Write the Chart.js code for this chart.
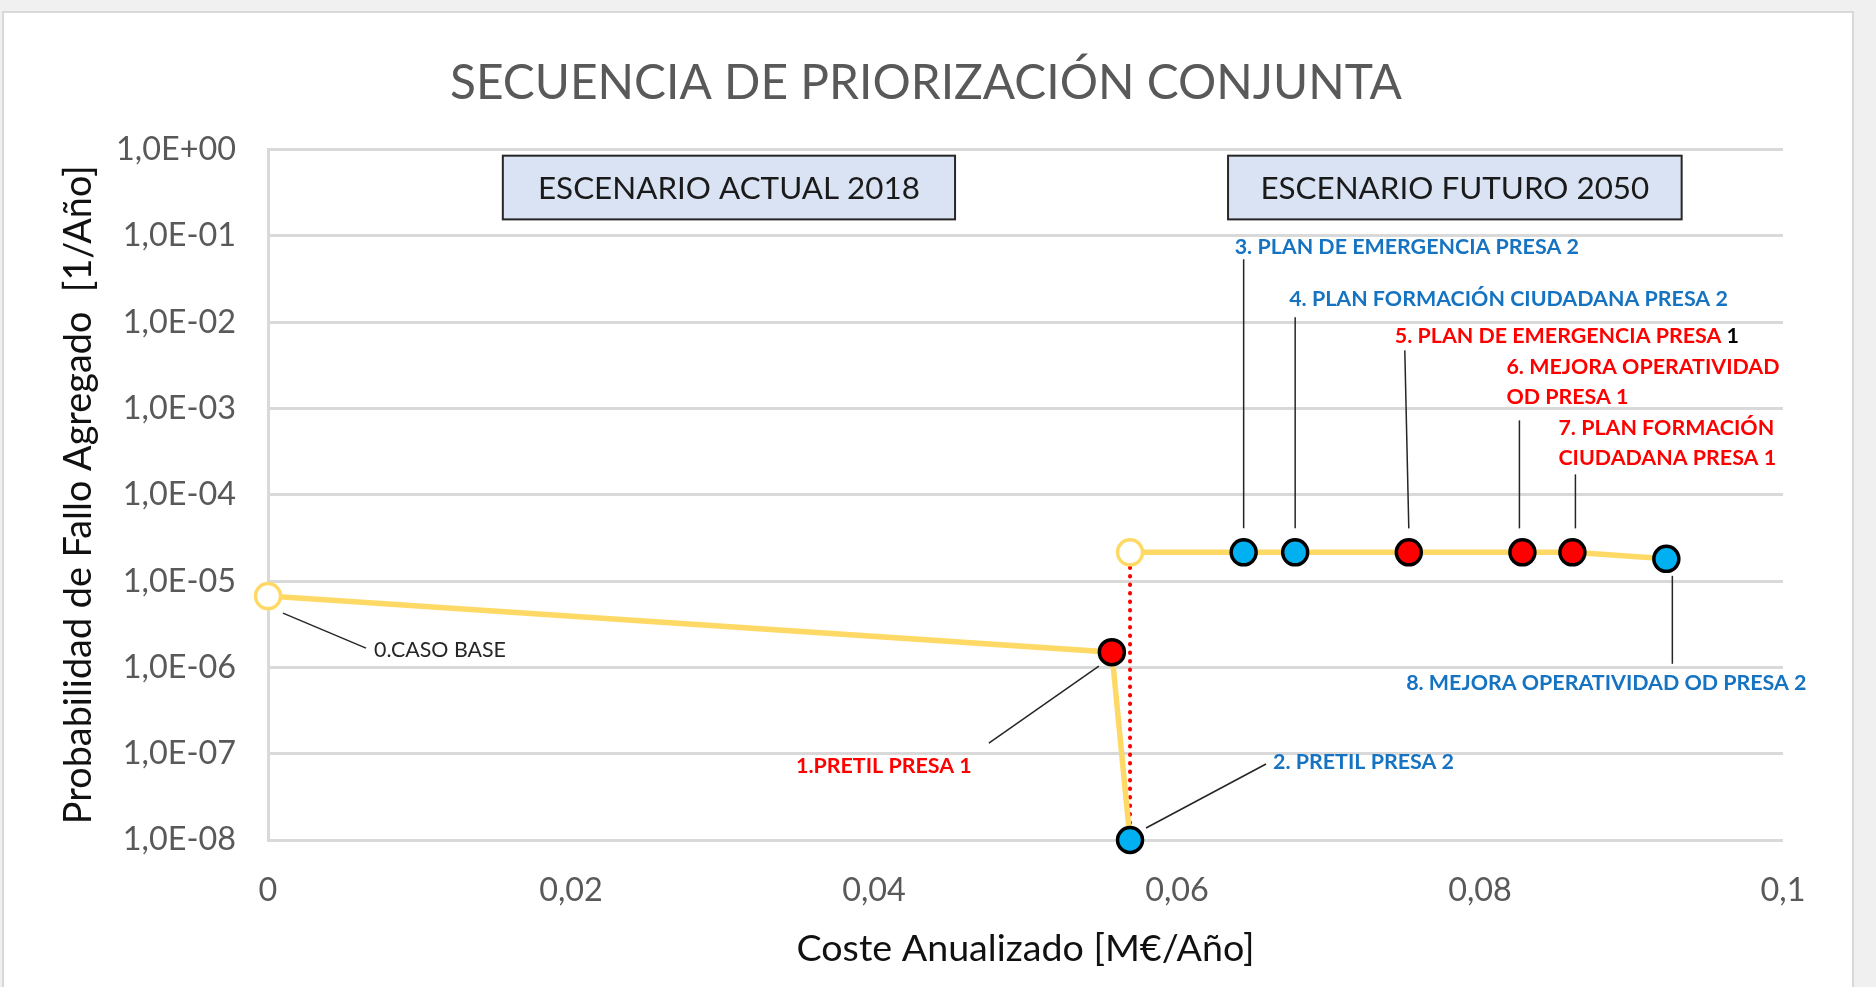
<!DOCTYPE html>
<html lang="es">
<head>
<meta charset="utf-8">
<title>Secuencia de priorización conjunta</title>
<script src="https://cdn.jsdelivr.net/npm/chart.js@4.4.1/dist/chart.umd.min.js"></script>
<style>
  html, body { margin: 0; padding: 0; background: #f0f0f0; overflow: hidden; }
  .panel { position: absolute; left: 2px; top: 11px; width: 1848px; height: 990px; background: #fff; border: 2px solid #d9d9d9; }
  .chart-box { position: absolute; left: 0; top: 0; width: 1876px; height: 987px; }
</style>
</head>
<body>
<div class="panel"></div>
<div class="chart-box"><canvas id="myChart"></canvas></div>
<script>

// data

const actualCost = [0, 0.0557, 0.0569]
const actualProb = [6.7e-6, 1.5e-6, 1e-8]
const actualPresa = [0, 1, 2]   // 0 = caso base, 1 = presa 1, 2 = presa 2
const actualNames = ['0.CASO BASE', '1.PRETIL PRESA 1', '2. PRETIL PRESA 2']

const futuroCost = [0.0569, 0.0644, 0.0678, 0.0753, 0.0828, 0.0861, 0.0923]
const futuroProb = [2.15e-5, 2.15e-5, 2.15e-5, 2.15e-5, 2.15e-5, 2.15e-5, 1.81e-5]
const futuroPresa = [0, 2, 2, 1, 1, 1, 2]
const futuroNames = [
  '',
  '3. PLAN DE EMERGENCIA PRESA 2',
  '4. PLAN FORMACIÓN CIUDADANA PRESA 2',
  '5. PLAN DE EMERGENCIA PRESA 1',
  ['6. MEJORA OPERATIVIDAD', 'OD PRESA 1'],
  ['7. PLAN FORMACIÓN', 'CIUDADANA PRESA 1'],
  '8. MEJORA OPERATIVIDAD OD PRESA 2'
]

const xTicks = [0, 0.02, 0.04, 0.06, 0.08, 0.1]
const xTickLabels = ['0', '0,02', '0,04', '0,06', '0,08', '0,1']
const yTicks = [1e-8, 1e-7, 1e-6, 1e-5, 1e-4, 1e-3, 1e-2, 1e-1, 1]
const yTickLabels = ['1,0E-08', '1,0E-07', '1,0E-06', '1,0E-05', '1,0E-04', '1,0E-03', '1,0E-02', '1,0E-01', '1,0E+00']

const chartTitle = 'SECUENCIA DE PRIORIZACIÓN CONJUNTA'
const xTitle = 'Coste Anualizado [M€/Año]'
const yTitle = 'Probabilidad de Fallo Agregado  [1/Año]'
const scenarios = ['ESCENARIO ACTUAL 2018', 'ESCENARIO FUTURO 2050']


// layout of the boxes and notes (not data)

const scenarioBoxes = [
  {x0: 0.0155, x1: 0.04535, y0: 0.848, y1: 0.155},
  {x0: 0.06337, x1: 0.09331, y0: 0.848, y1: 0.155}
]

// offsets in px from the point: leader line from -> to, text at
const actualNotes = [
  {from: [15, 17], to: [98, 52], at: [106, 54], align: 'left'},
  {from: [-13, 14], to: [-123, 91], at: [-228, 114], align: 'center'},
  {from: [16, -12], to: [136, -76], at: [143, -78], align: 'left'}
]
const futuroNotes = [
  null,
  {from: [0, -24], to: [0, -293], at: [-9, -305], align: 'left'},
  {from: [0, -24], to: [0, -235], at: [-6, -253], align: 'left'},
  {from: [0, -24], to: [-4, -202], at: [-14, -216], align: 'left', lastBlack: true},
  {from: [-3, -24], to: [-3, -132], at: [-16, -185], align: 'left'},
  {from: [3, -24], to: [3, -78], at: [-14, -124], align: 'left'},
  {from: [6, 17], to: [6, 105], at: [-60, 124], align: 'center'}
]

const presaFill = ['#ffffff', '#ff0000', '#00b0f0']
const presaBorder = ['#ffd966', '#000000', '#000000']
const presaText = ['#262626', '#ff0000', '#1573c1']


// font sizes fitted to the widths in the original

const FONT = 'Lato, "Open Sans", sans-serif'
const probe = document.createElement('canvas').getContext('2d')
function fitSize(text, width, weight) {
  probe.font = (weight || 'normal') + ' 100px ' + FONT
  return 100 * width / probe.measureText(text).width
}

const titleSize = fitSize(chartTitle, 952)
const tickSize = fitSize(yTickLabels[8], 120)
const xTitleSize = fitSize(xTitle, 458)
const yTitleSize = fitSize(yTitle, 659)
const boxSize = fitSize(scenarios[0], 382)
const noteSize = fitSize(futuroNames[2], 439, 'bold')
const baseSize = fitSize(actualNames[0], 132)

Chart.defaults.font.family = FONT


// notes and scenario boxes

function drawNote(ctx, pt, name, presa, note) {
  ctx.strokeStyle = '#262626'
  ctx.lineWidth = 1.5
  ctx.beginPath()
  ctx.moveTo(pt.x + note.from[0], pt.y + note.from[1])
  ctx.lineTo(pt.x + note.to[0], pt.y + note.to[1])
  ctx.stroke()

  ctx.font = presa === 0 ? 'normal ' + baseSize + 'px ' + FONT : 'bold ' + noteSize + 'px ' + FONT
  ctx.textAlign = note.align
  ctx.textBaseline = 'middle'
  const lines = [].concat(name)
  lines.forEach((line, k) => {
    const tx = pt.x + note.at[0]
    const ty = pt.y + note.at[1] + k * 30
    ctx.fillStyle = presaText[presa]
    if (note.lastBlack) {
      const head = line.slice(0, -1)
      ctx.fillText(head, tx, ty)
      ctx.fillStyle = '#000'
      ctx.fillText(line.slice(-1), tx + ctx.measureText(head).width, ty)
    } else {
      ctx.fillText(line, tx, ty)
    }
  })
}

const notesPlugin = {
  id: 'notes',
  afterDatasetsDraw(chart) {
    const ctx = chart.ctx
    const xs = chart.scales.x
    const ys = chart.scales.y
    ctx.save()

    scenarioBoxes.forEach((b, i) => {
      const left = xs.getPixelForValue(b.x0)
      const right = xs.getPixelForValue(b.x1)
      const top = ys.getPixelForValue(b.y0)
      const bottom = ys.getPixelForValue(b.y1)
      ctx.fillStyle = '#dae3f3'
      ctx.fillRect(left, top, right - left, bottom - top)
      ctx.strokeStyle = '#262626'
      ctx.lineWidth = 2
      ctx.strokeRect(left, top, right - left, bottom - top)
      ctx.fillStyle = '#1a1a1a'
      ctx.font = 'normal ' + boxSize + 'px ' + FONT
      ctx.textAlign = 'center'
      ctx.textBaseline = 'middle'
      ctx.fillText(scenarios[i], (left + right) / 2, (top + bottom) / 2 + 1)
    })

    const groups = [
      [0, actualNames, actualPresa, actualNotes],
      [1, futuroNames, futuroPresa, futuroNotes]
    ]
    groups.forEach(([di, names, presas, notes]) => {
      const points = chart.getDatasetMeta(di).data
      notes.forEach((note, i) => {
        if (note) drawNote(ctx, points[i], names[i], presas[i], note)
      })
    })
    ctx.restore()
  }
}


// chart

const ctx = document.getElementById('myChart').getContext('2d')
const myChart = new Chart(ctx, {
  type: 'line',
  data: {
    datasets: [
      {
        label: 'Escenario actual 2018',
        data: actualCost.map((c, i) => ({x: c, y: actualProb[i]})),
        borderColor: '#ffd966',
        borderWidth: 5.5,
        pointRadius: 12.5,
        pointBorderWidth: 3.5,
        pointBackgroundColor: actualPresa.map(p => presaFill[p]),
        pointBorderColor: actualPresa.map(p => presaBorder[p]),
        clip: false,
        order: 0
      },
      {
        label: 'Escenario futuro 2050',
        data: futuroCost.map((c, i) => ({x: c, y: futuroProb[i]})),
        borderColor: '#ffd966',
        borderWidth: 5.5,
        pointRadius: 12.5,
        pointBorderWidth: 3.5,
        pointBackgroundColor: futuroPresa.map(p => presaFill[p]),
        pointBorderColor: futuroPresa.map(p => presaBorder[p]),
        clip: false,
        order: 0
      },
      {
        // jump from the 2018 end point to the 2050 start
        label: 'Cambio de escenario',
        data: [
          {x: actualCost[2], y: actualProb[2]},
          {x: futuroCost[0], y: futuroProb[0]}
        ],
        borderColor: '#ff0000',
        borderWidth: 4,
        borderDash: [0.5, 8],
        borderCapStyle: 'round',
        pointRadius: 0,
        clip: false,
        order: 1
      }
    ]
  },
  options: {
    responsive: true,
    maintainAspectRatio: false,
    animation: false,
    layout: {
      padding: {left: 69, right: 93, top: 0, bottom: 0}
    },
    plugins: {
      legend: {display: false},
      tooltip: {enabled: false},
      title: {
        display: true,
        text: chartTitle,
        color: '#595959',
        font: {size: titleSize, weight: 'normal'},
        padding: {top: 84 - titleSize * 0.6, bottom: 65.5 - titleSize * 0.6}
      }
    },
    scales: {
      x: {
        type: 'linear',
        min: 0,
        max: 0.1,
        afterBuildTicks: (axis) => { axis.ticks = xTicks.map(v => ({value: v})) },
        afterFit: (axis) => { axis.height = 147 },
        ticks: {
          callback: (v, i) => xTickLabels[i],
          color: '#595959',
          font: {size: tickSize},
          padding: 43 - tickSize * 0.6,
          maxRotation: 0,
          autoSkip: false
        },
        grid: {display: false},
        border: {display: false},
        title: {
          display: true,
          text: xTitle,
          color: '#111',
          font: {size: xTitleSize},
          padding: {top: 0, bottom: 38 - xTitleSize * 0.6}
        }
      },
      y: {
        type: 'logarithmic',
        min: 1e-8,
        max: 1,
        afterBuildTicks: (axis) => { axis.ticks = yTicks.map(v => ({value: v})) },
        afterFit: (axis) => { axis.width = 199 },
        ticks: {
          callback: (v, i) => yTickLabels[i],
          color: '#595959',
          font: {size: tickSize},
          padding: 32,
          autoSkip: false
        },
        grid: {color: '#d9d9d9', lineWidth: 3, drawTicks: false},
        border: {color: '#d9d9d9', width: 3},
        title: {
          display: true,
          text: yTitle,
          color: '#111',
          font: {size: yTitleSize},
          padding: {top: 10 - yTitleSize * 0.6, bottom: 0}
        }
      }
    }
  },
  plugins: [notesPlugin]
})

</script>
</body>
</html>
